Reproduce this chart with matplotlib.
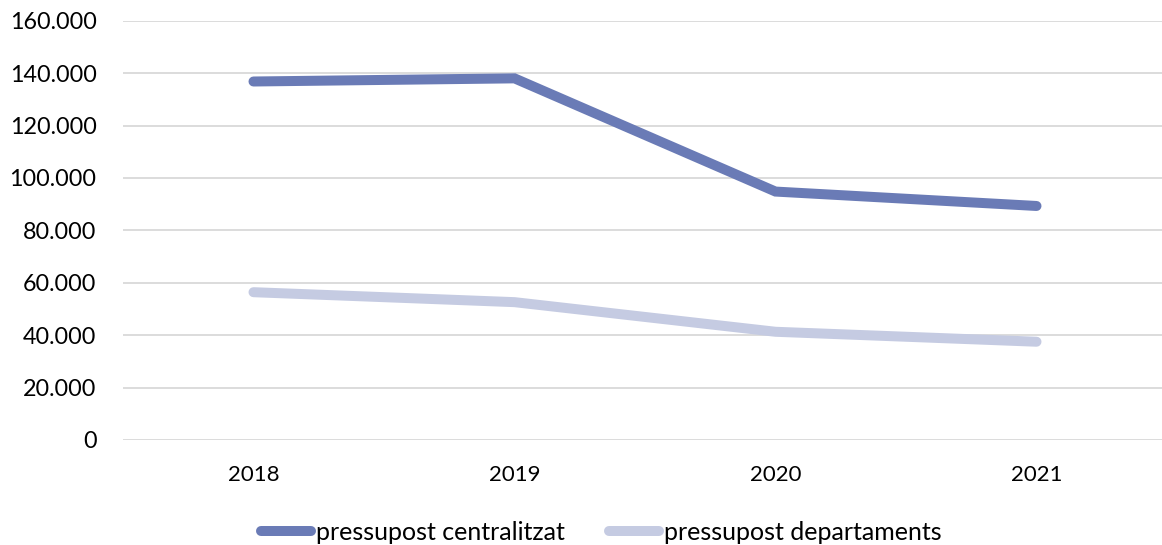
import matplotlib
matplotlib.use("Agg")
import matplotlib.pyplot as plt
from matplotlib.ticker import FuncFormatter

years = ["2018", "2019", "2020", "2021"]
centralitzat = [136800, 138000, 94800, 89300]
departaments = [56400, 52600, 41300, 37500]
series_names = ["pressupost centralitzat", "pressupost departaments"]
yticks = [0, 20000, 40000, 60000, 80000, 100000, 120000, 140000, 160000]

plt.rcParams['font.family'] = ['Lato', 'DejaVu Sans']

fig = plt.figure(figsize=(11.62, 5.45), dpi=100)
ax = fig.add_axes([123/1162, 1-440/545, 1044/1162, (440-20.7)/545])

x = list(range(len(years)))
ax.plot(x, centralitzat, color="#6A7BB6", lw=7.2, solid_capstyle="round", solid_joinstyle="miter", label=series_names[0])
ax.plot(x, departaments, color="#C5CBE2", lw=7.2, solid_capstyle="round", solid_joinstyle="miter", label=series_names[1])

ax.set_xlim(-0.5, len(years) - 0.5)
ax.set_ylim(0, 160000)
ax.set_xticks(x)
ax.set_xticklabels(years)
ax.set_yticks(yticks)
ax.yaxis.set_major_formatter(FuncFormatter(lambda v, p: f"{v:,.0f}".replace(",", ".")))
ax.grid(axis="y", color="#D9D9D9", lw=1.3)
ax.set_axisbelow(True)
for s in ["top", "right", "left", "bottom"]:
    ax.spines[s].set_visible(False)
ax.tick_params(axis="both", length=0, labelsize=16, colors="#000000")
ax.tick_params(axis="y", labelsize=16.8, pad=19)
ax.tick_params(axis="x", pad=18)

leg = fig.legend(loc="center", bbox_to_anchor=(601/1162, 1-532/545), ncol=2, frameon=False,
                 fontsize=18, handlelength=2.0, handletextpad=0.2, columnspacing=1.76)
for h in leg.get_lines():
    h.set_solid_capstyle("round")
fig.savefig("out.png", dpi=100)
